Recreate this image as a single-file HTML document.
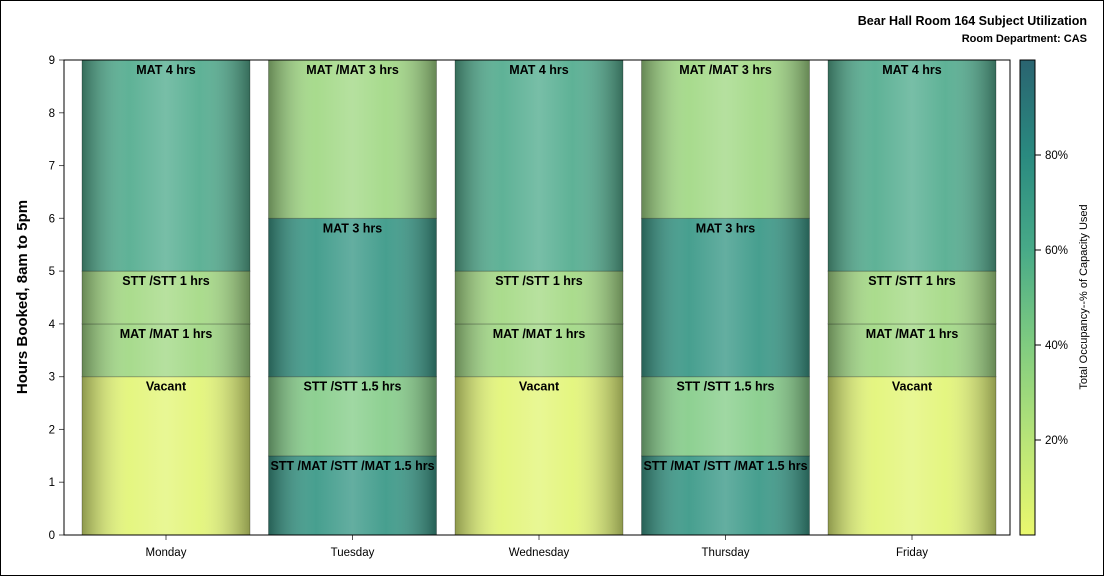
<!DOCTYPE html>
<html><head><meta charset="utf-8">
<style>
html,body{margin:0;padding:0;background:#fff;}
svg{display:block;font-family:"Liberation Sans",Arial,sans-serif;}
</style></head>
<body>
<svg id="chart" width="1104" height="576" viewBox="0 0 1104 576">
<defs>
<linearGradient id="cyl" x1="0" x2="1" y1="0" y2="0">
<stop offset="0" stop-color="#000" stop-opacity="0.38"/>
<stop offset="0.28" stop-color="#fff" stop-opacity="0.05"/>
<stop offset="0.5" stop-color="#fff" stop-opacity="0.2"/>
<stop offset="0.7" stop-color="#fff" stop-opacity="0.05"/>
<stop offset="1" stop-color="#000" stop-opacity="0.38"/>
</linearGradient>
<linearGradient id="legendGrad" x1="0" x2="0" y1="1" y2="0">
<stop offset="0" stop-color="#eaf86e"/>
<stop offset="0.2" stop-color="#b8e478"/>
<stop offset="0.4" stop-color="#80cc80"/>
<stop offset="0.6" stop-color="#48aa88"/>
<stop offset="0.8" stop-color="#2a8a80"/>
<stop offset="1" stop-color="#2a6470"/>
</linearGradient>
</defs>
<rect x="0.5" y="0.5" width="1103" height="575" fill="#fff" stroke="#000"/>
<text x="1087" y="25" text-anchor="end" font-size="12.5" font-weight="bold">Bear Hall Room 164 Subject Utilization</text>
<text x="1087" y="42" text-anchor="end" font-size="11" font-weight="bold">Room Department: CAS</text>
<text transform="translate(27,297) rotate(-90)" text-anchor="middle" font-size="15" font-weight="bold">Hours Booked, 8am to 5pm</text>
<g id="bars"></g>
<g id="axes"></g>
<rect x="64" y="60" width="946" height="475" fill="none" stroke="#000"/>
<rect x="1020" y="60" width="15" height="475" fill="url(#legendGrad)" stroke="#000"/>
<g id="legendTicks"></g>
<text transform="translate(1087,297) rotate(-90)" text-anchor="middle" font-size="11">Total Occupancy--% of Capacity Used</text>
</svg>
<script>
const days = ["Monday","Tuesday","Wednesday","Thursday","Friday"];
const segLabels = [
 ["Vacant","MAT /MAT 1 hrs","STT /STT 1 hrs","MAT 4 hrs"],
 ["STT /MAT /STT /MAT 1.5 hrs","STT /STT 1.5 hrs","MAT 3 hrs","MAT /MAT 3 hrs"],
 ["Vacant","MAT /MAT 1 hrs","STT /STT 1 hrs","MAT 4 hrs"],
 ["STT /MAT /STT /MAT 1.5 hrs","STT /STT 1.5 hrs","MAT 3 hrs","MAT /MAT 3 hrs"],
 ["Vacant","MAT /MAT 1 hrs","STT /STT 1 hrs","MAT 4 hrs"]
];
const segHours = [
 [3,1,1,4],[1.5,1.5,3,3],[3,1,1,4],[1.5,1.5,3,3],[3,1,1,4]
];
const segOccupancy = [
 [3,30,29,58],[70,40,70,30],[3,30,29,58],[70,40,70,30],[3,30,29,58]
];
const yTicks = [0,1,2,3,4,5,6,7,8,9];
const legendTicks = [20,40,60,80];

const NS="http://www.w3.org/2000/svg";
const plotL=64, plotR=1010, plotT=60, plotB=535, yMax=9;
const y = v => plotB - v/yMax*(plotB-plotT);
const firstC = 166, step = 186.5;
const xc = i => firstC + step*i;
const barW = 168;
const stops=[[0,[234,248,120]],[20,[190,228,130]],[40,[136,206,140]],[60,[80,170,146]],[80,[42,138,128]],[100,[42,100,112]]];
function color(p){
 for(let k=0;k<stops.length-1;k++){const a=stops[k],b=stops[k+1];
  if(p<=b[0]){const t=(p-a[0])/(b[0]-a[0]);const c=a[1].map((v,j)=>Math.round(v+(b[1][j]-v)*t));return `rgb(${c})`;}}
 return `rgb(${stops[5][1]})`;
}
function mk(tag,attrs,parent){const e=document.createElementNS(NS,tag);for(const k in attrs)e.setAttribute(k,attrs[k]);parent.appendChild(e);return e;}
const gb=document.getElementById('bars'), ga=document.getElementById('axes'), gl=document.getElementById('legendTicks');
days.forEach((d,i)=>{
 let base=0;
 const x0=xc(i)-barW/2;
 segHours[i].forEach((h,s)=>{
  const top=base+h;
  const r=mk('rect',{x:x0,y:y(top),width:barW,height:y(base)-y(top),fill:color(segOccupancy[i][s]),stroke:'rgba(0,0,0,0.25)'},gb);
  
  
  const o=mk('rect',{x:x0,y:y(top),width:barW,height:y(base)-y(top),fill:'url(#cyl)'},gb);
  
  
  const t=mk('text',{x:xc(i),y:y(top)+14,'text-anchor':'middle','font-size':12.5,'font-weight':'bold'},gb);
  t.textContent=segLabels[i][s];
  
  
  base=top;
 });
 const tk=mk('line',{x1:xc(i),x2:xc(i),y1:plotB,y2:plotB+5,stroke:'#555'},ga);
 
 
 const lb=mk('text',{x:xc(i),y:plotB+21,'text-anchor':'middle','font-size':11.5},ga);
 lb.textContent=d;
 
 
});
yTicks.forEach(v=>{
 const tk=mk('line',{x1:plotL-5,x2:plotL,y1:y(v),y2:y(v),stroke:'#555'},ga);
 
 
 const lb=mk('text',{x:plotL-9,y:y(v)+4,'text-anchor':'end','font-size':11.5},ga);
 lb.textContent=v;
 
 
});
legendTicks.forEach(p=>{
 const ly=535-p/100*475;
 const tk=mk('line',{x1:1035,x2:1041,y1:ly,y2:ly,stroke:'#000'},gl);
 
 
 const lb=mk('text',{x:1045,y:ly+4,'font-size':11.5},gl);
 lb.textContent=p+'%';
 
 
});
</script>
</body></html>
